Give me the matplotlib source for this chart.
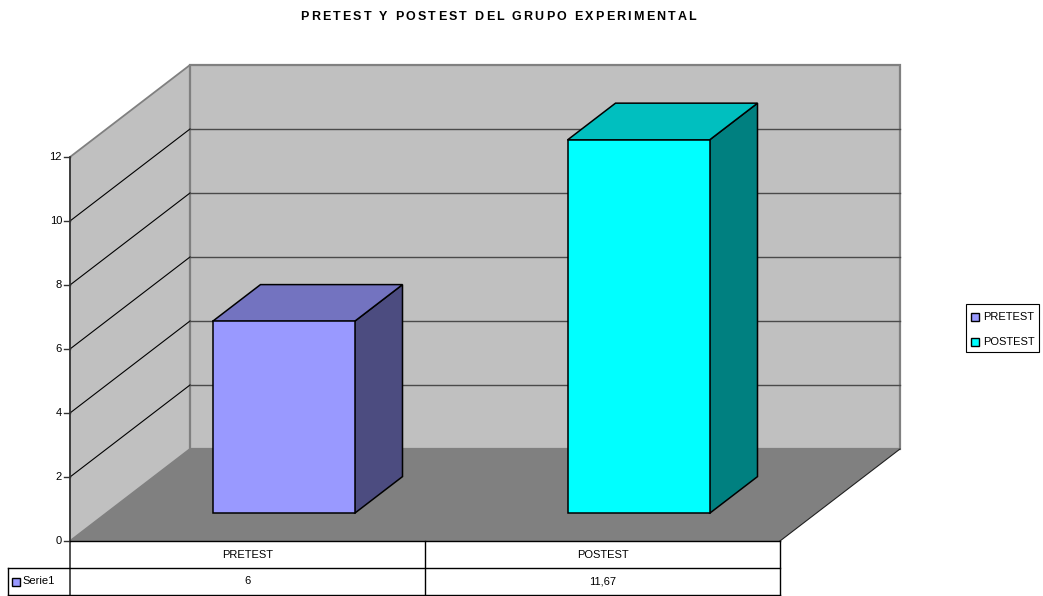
"""Pretest / postest del grupo experimental - 3D column chart with data table."""

import matplotlib
matplotlib.use("Agg")
import matplotlib.pyplot as plt
from matplotlib.patches import Polygon, Rectangle

plt.rcParams["font.family"] = ["Liberation Sans", "DejaVu Sans"]

# ---- data ----
categories = ["PRETEST", "POSTEST"]
values = [6, 11.67]
value_labels = ["6", "11,67"]
series_name = "Serie1"
title = "PRETEST Y POSTEST DEL GRUPO EXPERIMENTAL"
y_ticks = [0, 2, 4, 6, 8, 10, 12]

front_colors = ["#9999FF", "#00FFFF"]
top_colors = ["#7373C0", "#00BFBF"]
side_colors = ["#4C4C80", "#008080"]

# ---- layout (pixels) ----
W, H = 1043, 596
X0_PX, Y0_PX = 70, 541          # origin of the front plane
CAT_PX = 355                    # width of one category
UNIT_PX = 32                    # pixels per value unit
DEPTH_DX, DEPTH_DY = 120, 92    # oblique offset of the back wall
Y_MAX = 12
FS = 8

fig = plt.figure(figsize=(W / 100, H / 100), dpi=100)
ax = fig.add_axes([0, 0, 1, 1])
ax.set_xlim(-X0_PX / CAT_PX, (W - X0_PX) / CAT_PX)
ax.set_ylim(-(H - Y0_PX) / UNIT_PX, Y0_PX / UNIT_PX)
ax.axis("off")

PX = 1 / CAT_PX      # one pixel in x data units
PY = 1 / UNIT_PX     # one pixel in y data units
DX = DEPTH_DX * PX
DY = DEPTH_DY * PY
n = len(categories)


def P(x, y, d):
    """Oblique projection: category x, value y, depth d (0 front .. 1 back)."""
    return (x + d * DX, y + d * DY)


def face(pts, fc, ec, lw, z):
    ax.add_patch(Polygon(pts, closed=True, facecolor=fc, edgecolor=ec,
                         linewidth=lw, zorder=z, joinstyle="miter"))


# walls and floor
face([P(0, 0, 0), P(0, Y_MAX, 0), P(0, Y_MAX, 1), P(0, 0, 1)], "#C0C0C0", "#808080", 1.3, 1)
face([P(0, 0, 1), P(n, 0, 1), P(n, Y_MAX, 1), P(0, Y_MAX, 1)], "#C0C0C0", "#808080", 1.6, 1)

for v in y_ticks[1:-1]:
    xa, ya = P(0, v, 0)
    xb, yb = P(0, v, 1)
    ax.plot([xa, xb], [ya, yb], color="#000000", lw=0.8, zorder=2)
    xc, yc = P(n, v, 1)
    ax.plot([xb, xc], [yb, yc], color="#4A4A4A", lw=1.0, zorder=2)

face([P(0, 0, 0), P(n, 0, 0), P(n, 0, 1), P(0, 0, 1)], "#808080", "none", 0, 3)
xa, ya = P(n, 0, 0)
xb, yb = P(n, 0, 1)
ax.plot([xa, xb], [ya, yb], color="#202020", lw=0.8, zorder=3)

# columns
bar_w, d0, d1 = 0.4, 0.3, 0.7
for i, v in enumerate(values):
    xl = i + (1 - bar_w) / 2
    xr = xl + bar_w
    face([P(xr, 0, d0), P(xr, 0, d1), P(xr, v, d1), P(xr, v, d0)], side_colors[i], "black", 1.1, 4)
    face([P(xl, v, d0), P(xr, v, d0), P(xr, v, d1), P(xl, v, d1)], top_colors[i], "black", 1.1, 4)
    face([P(xl, 0, d0), P(xr, 0, d0), P(xr, v, d0), P(xl, v, d0)], front_colors[i], "black", 1.1, 5)

# value axis
row_h = 27 * PY
ax.plot([0, 0], [Y_MAX, -2 * row_h], color="#333333", lw=1.2, zorder=6)
for v in y_ticks:
    ax.plot([-6 * PX, 0], [v, v], color="#333333", lw=1.0, zorder=6)
    ax.text(-8 * PX, v, str(v), ha="right", va="center", fontsize=FS, zorder=6)

# data table
left = -62 * PX
ax.plot([0, n], [0, 0], color="black", lw=1.0, zorder=6)
ax.plot([left, n], [-row_h, -row_h], color="black", lw=1.0, zorder=6)
ax.plot([left, n], [-2 * row_h, -2 * row_h], color="black", lw=1.0, zorder=6)
ax.plot([left, left], [-row_h, -2 * row_h], color="black", lw=1.0, zorder=6)
for k in range(1, n + 1):
    ax.plot([k, k], [0, -2 * row_h], color="black", lw=1.0, zorder=6)
for i, (cat, lab) in enumerate(zip(categories, value_labels)):
    ax.text(i + 0.5, -row_h / 2, cat, ha="center", va="center", fontsize=FS)
    ax.text(i + 0.5, -1.5 * row_h, lab, ha="center", va="center", fontsize=FS)
ax.add_patch(Rectangle((left + 4 * PX, -1.5 * row_h - 4 * PY), 8 * PX, 8 * PY,
                       facecolor=front_colors[0], edgecolor="black", lw=1.0, zorder=7))
ax.text(left + 14 * PX, -1.5 * row_h, series_name, ha="left", va="center", fontsize=FS)

# legend
lx0, lx1 = (966 - X0_PX) * PX, (1039 - X0_PX) * PX
ly0, ly1 = (Y0_PX - 352) * PY, (Y0_PX - 304) * PY
ax.add_patch(Rectangle((lx0, ly0), lx1 - lx0, ly1 - ly0, facecolor="white",
                       edgecolor="black", lw=0.8, zorder=7))
for i, cat in enumerate(categories):
    cy = (Y0_PX - (317 + 25 * i)) * PY
    ax.add_patch(Rectangle((lx0 + 5 * PX, cy - 4 * PY), 8 * PX, 8 * PY,
                           facecolor=front_colors[i], edgecolor="black", lw=1.0, zorder=8))
    ax.text(lx0 + 17 * PX, cy, cat, ha="left", va="center", fontsize=FS, zorder=8)

# title with letter spacing
renderer = fig.canvas.get_renderer()


def text_width(s, **kw):
    t = fig.text(0, 0, s + "|", **kw)
    w = t.get_window_extent(renderer).width
    t.remove()
    t = fig.text(0, 0, "|", **kw)
    w -= t.get_window_extent(renderer).width
    t.remove()
    return w


tkw = dict(fontsize=9, fontweight="bold")
tracking = 2.2
total = text_width(title, **tkw) + tracking * (len(title) - 1)
x = 498 - total / 2
for k, ch in enumerate(title):
    xpos = x + text_width(title[:k], **tkw) + tracking * k
    fig.text(xpos / W, 1 - 17 / H, ch, ha="left", va="center", **tkw)

fig.savefig("out.png", dpi=100)
